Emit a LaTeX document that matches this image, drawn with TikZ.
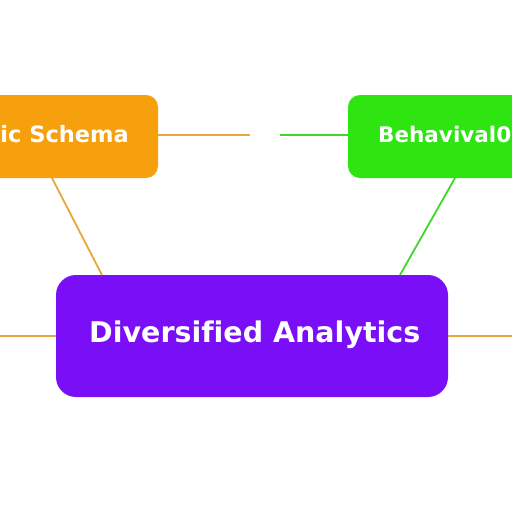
\documentclass[tikz,border=0pt]{standalone}
\usepackage{fontspec}
\setmainfont[Ligatures={NoCommon}]{DejaVu Sans}
\definecolor{orangebox}{HTML}{F5A00C}
\definecolor{orangeline}{HTML}{E9A63A}
\definecolor{greenbox}{HTML}{2EE512}
\definecolor{greenline}{HTML}{3ED82A}
\definecolor{purplebox}{HTML}{7A0EF6}
\tikzset{
  conn/.style={line width=1.8pt},
  lbl/.style={text=white, inner sep=0pt},
}
\begin{document}
\begin{tikzpicture}[x=1pt,y=-1pt]
\useasboundingbox (0,0) rectangle (512,512);
\clip (0,0) rectangle (512,512);
\fill[white] (0,0) rectangle (512,512);
% boxes
\fill[orangebox, rounded corners=12pt] (-40,95) rectangle (158,178);
\fill[greenbox, rounded corners=12pt] (348,95) rectangle (560,178);
\fill[purplebox, rounded corners=20pt] (56,275) rectangle (448,397);
\coordinate (oR) at (158,135);
\coordinate (oE) at (250,135);
\coordinate (gS) at (280,135);
\coordinate (gL) at (348,135);
\coordinate (oB) at (52,178);
\coordinate (pTL) at (102,275);
\coordinate (gB) at (455,178);
\coordinate (pTR) at (400,275);
\coordinate (lE) at (0,336);
\coordinate (pL) at (56,336);
\coordinate (pR) at (448,336);
\coordinate (rE) at (512,336);
\draw[conn, orangeline] (oR) -- (oE);
\draw[conn, greenline] (gS) -- (gL);
\draw[conn, orangeline] (oB) -- (pTL);
\draw[conn, greenline] (gB) -- (pTR);
\draw[conn, orangeline] (lE) -- (pL);
\draw[conn, orangeline] (pR) -- (rE);
% labels
\node[lbl, anchor=base east, font=\bfseries\fontsize{22.5}{22.5}\selectfont] (schema) at (129,142) {ic Schema};
\node[lbl, anchor=base west, font=\bfseries\fontsize{21.5}{21.5}\selectfont] (beh) at (378,142) {Behavival0};
\node[lbl, anchor=base west, font=\bfseries\fontsize{28.5}{28.5}\selectfont] (div) at (89,342) {Diversified Analytics};
\end{tikzpicture}
\end{document}
